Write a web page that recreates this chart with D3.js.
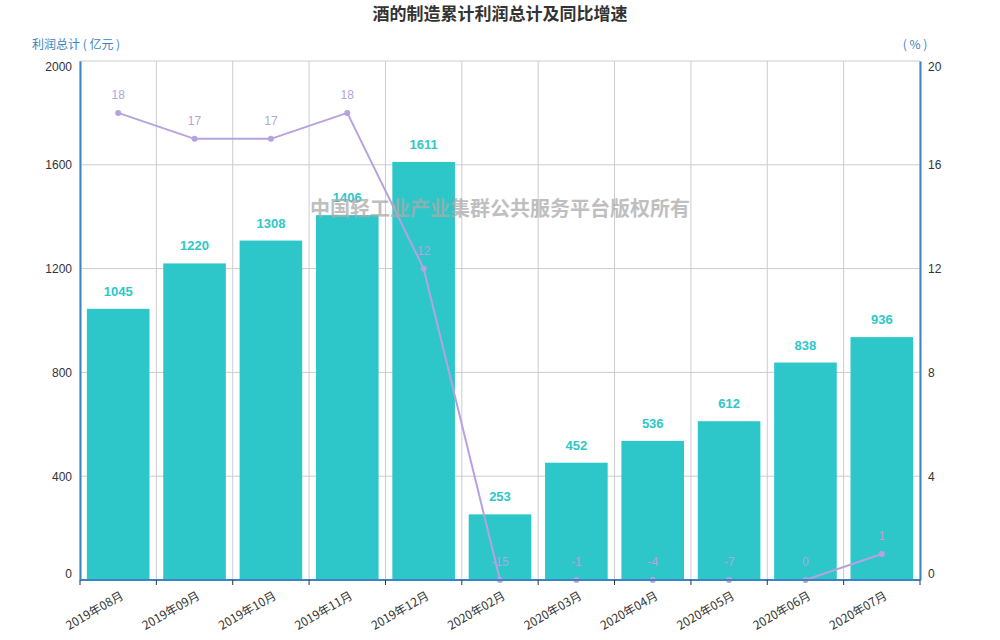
<!DOCTYPE html>
<html>
<head>
<meta charset="utf-8">
<script src="https://cdn.jsdelivr.net/npm/d3@7"></script>
<style>
  body { margin: 0; background: #fff; }
  svg { font-family: "Microsoft YaHei", "Noto Sans CJK SC", sans-serif; }
</style>
</head>
<body>
<div id="chart"></div>
<script>
// data
var months = ["2019年08月", "2019年09月", "2019年10月", "2019年11月", "2019年12月",
  "2020年02月", "2020年03月", "2020年04月", "2020年05月", "2020年06月", "2020年07月"];
var profit = [1045, 1220, 1308, 1406, 1611, 253, 452, 536, 612, 838, 936];
var growth = [18, 17, 17, 18, 12, -15, -1, -4, -7, 0, 1];
var leftTicks = [0, 400, 800, 1200, 1600, 2000];
var rightTicks = [0, 4, 8, 12, 16, 20];

var W = 1000, H = 640;
var margin = { top: 61, right: 80, bottom: 60, left: 80 },
  width = W - margin.left - margin.right,
  height = H - margin.top - margin.bottom;

var barColor = "#2ec7c9", lineColor = "#b6a2de", axisColor = "#3a84c4";

var svg = d3.select("#chart").append("svg")
  .attr("width", W)
  .attr("height", H);

// title
svg.append("text")
  .attr("x", W / 2).attr("y", 20)
  .attr("text-anchor", "middle")
  .style("font-size", "17px").style("font-weight", "bold").style("fill", "#333")
  .text("酒的制造累计利润总计及同比增速");

var g = svg.append("g")
  .attr("transform", "translate(" + margin.left + "," + margin.top + ")");

var x = d3.scaleBand().domain(months).range([0, width]).paddingInner(0.18).paddingOuter(0.09);
var y = d3.scaleLinear().domain([0, 2000]).range([height, 0]);
var y2 = d3.scaleLinear().domain([0, 20]).range([height, 0]).clamp(true);
var step = x.step();

// grid
g.append("g").selectAll("line")
  .data(leftTicks)
  .join("line")
  .attr("x1", 0).attr("x2", width)
  .attr("y1", function (d) { return y(d); }).attr("y2", function (d) { return y(d); })
  .style("stroke", "#ccc");

g.append("g").selectAll("line")
  .data(d3.range(months.length + 1))
  .join("line")
  .attr("x1", function (i) { return i * step; }).attr("x2", function (i) { return i * step; })
  .attr("y1", 0).attr("y2", height)
  .style("stroke", "#ccc");

// bars
g.append("g").selectAll("rect")
  .data(profit)
  .join("rect")
  .attr("x", function (d, i) { return x(months[i]); })
  .attr("width", x.bandwidth())
  .attr("y", function (d) { return y(d); })
  .attr("height", function (d) { return height - y(d); })
  .style("fill", barColor);

g.append("g").selectAll("text")
  .data(profit)
  .join("text")
  .attr("x", function (d, i) { return x(months[i]) + x.bandwidth() / 2; })
  .attr("y", function (d) { return y(d) - 13; })
  .attr("text-anchor", "middle")
  .style("font-size", "13px").style("font-weight", "bold").style("fill", barColor)
  .style("font-family", "Arial, 'Liberation Sans', sans-serif")
  .text(function (d) { return d; });

// line (negative values sit on the 0 line, as in the original)
var cx = function (d, i) { return x(months[i]) + x.bandwidth() / 2; };
var valueline = d3.line()
  .x(cx)
  .y(function (d) { return y2(d); });

g.append("path")
  .datum(growth)
  .attr("d", valueline)
  .style("fill", "none").style("stroke", lineColor).style("stroke-width", 2);

g.append("g").selectAll("circle")
  .data(growth)
  .join("circle")
  .attr("cx", cx)
  .attr("cy", function (d) { return y2(d); })
  .attr("r", 3)
  .style("fill", lineColor);

g.append("g").selectAll("text")
  .data(growth)
  .join("text")
  .attr("x", cx)
  .attr("y", function (d) { return y2(d) - 14; })
  .attr("text-anchor", "middle")
  .style("font-size", "12px").style("fill", lineColor)
  .style("font-family", "Arial, 'Liberation Sans', sans-serif")
  .text(function (d) { return d; });

// axes
var yAxisL = g.append("g").call(d3.axisLeft(y).tickValues(leftTicks).tickFormat(d3.format("d")).tickSize(0).tickPadding(8));
var yAxisR = g.append("g").attr("transform", "translate(" + width + ",0)")
  .call(d3.axisRight(y2).tickValues(rightTicks).tickFormat(d3.format("d")).tickSize(0).tickPadding(8));

[yAxisL, yAxisR].forEach(function (a) {
  a.select(".domain").style("stroke", axisColor).style("stroke-width", 2);
  a.selectAll("text").style("font-size", "12px").style("fill", "#333")
    .style("font-family", "Arial, 'Liberation Sans', sans-serif")
    .attr("dy", function (d, i, n) {
      // end labels are kept inside the plot
      if (i === 0) return "-0.2em";
      if (i === n.length - 1) return "0.75em";
      return "0.32em";
    });
});

var xAxis = g.append("g").attr("transform", "translate(0," + height + ")");
xAxis.append("line")
  .attr("x1", 0).attr("x2", width)
  .style("stroke", axisColor).style("stroke-width", 2);
xAxis.selectAll(".tick")
  .data(d3.range(months.length + 1))
  .join("line")
  .attr("class", "tick")
  .attr("x1", function (i) { return i * step; }).attr("x2", function (i) { return i * step; })
  .attr("y1", 0).attr("y2", 5)
  .style("stroke", "#333");
xAxis.selectAll(".lab")
  .data(months)
  .join("text")
  .attr("class", "lab")
  .attr("text-anchor", "end")
  .attr("transform", function (d) {
    return "translate(" + (x(d) + x.bandwidth() / 2 + 2) + ",11) rotate(-30)";
  })
  .attr("dy", "0.7em")
  .style("font-size", "12px").style("fill", "#333")
  .text(function (d) { return d; });

// axis names
svg.append("text")
  .attr("x", 32).attr("y", 49)
  .style("font-size", "12px").style("fill", axisColor)
  .text("利润总计 ( 亿元 )");
svg.append("text")
  .attr("x", margin.left + width - 5).attr("y", 49)
  .attr("text-anchor", "middle")
  .style("font-size", "12px").style("fill", axisColor)
  .text("( % )");

// watermark
svg.append("text")
  .attr("x", 500).attr("y", 216)
  .attr("text-anchor", "middle")
  .style("font-size", "20px").style("font-weight", "bold")
  .style("fill", "#aaa").style("opacity", 0.75)
  .text("中国轻工业产业集群公共服务平台版权所有");
</script>
</body>
</html>
